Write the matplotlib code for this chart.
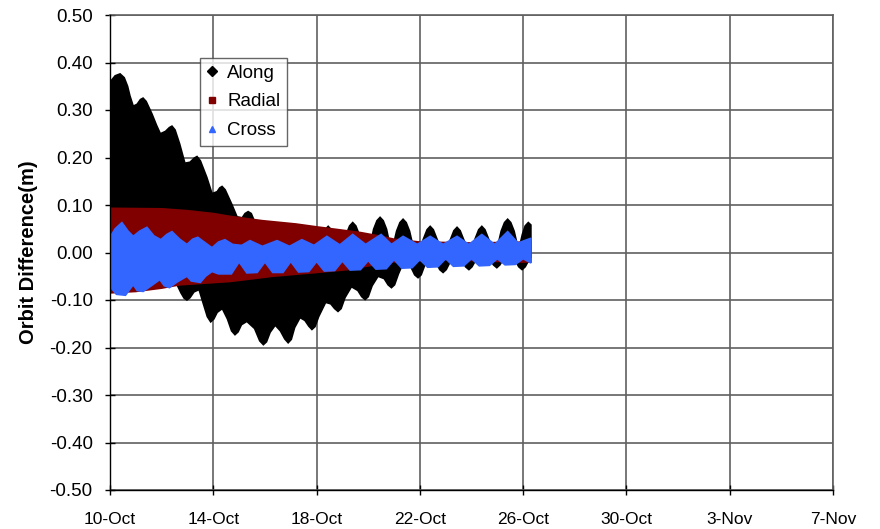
import numpy as np
import matplotlib
matplotlib.use("Agg")
from matplotlib import pyplot as plt
from matplotlib.lines import Line2D

plt.rcParams['font.family'] = ['Liberation Sans', 'DejaVu Sans']

tick_days = [0, 4, 8, 12, 16, 20, 24, 28]
tick_labels = ['10-Oct', '14-Oct', '18-Oct', '22-Oct', '26-Oct', '30-Oct', '3-Nov', '7-Nov']
y_ticks = [-0.5, -0.4, -0.3, -0.2, -0.1, 0.0, 0.1, 0.2, 0.3, 0.4, 0.5]

# Along (upper envelope)
along_top_d = [0.0, 0.05, 0.2, 0.39, 0.55, 0.68, 0.77, 0.9, 1.05, 1.18, 1.28, 1.4, 1.63, 1.8, 1.95,
               2.15, 2.3, 2.4, 2.52, 2.7, 2.9, 3.1, 3.27, 3.37, 3.5, 3.75, 3.95, 4.15, 4.25, 4.34,
               4.46, 4.72, 4.92, 5.12, 5.23, 5.35, 5.47, 5.6, 5.8, 6.4, 6.9, 7.4, 7.9,
               8.05, 8.2, 8.33, 8.45, 8.57, 8.7, 8.85,
               9.0, 9.15, 9.28, 9.4, 9.52, 9.65, 9.8,
               10.06, 10.21, 10.34, 10.46, 10.58, 10.71, 10.86,
               10.95, 11.1, 11.23, 11.35, 11.47, 11.6, 11.75,
               12.0, 12.15, 12.28, 12.4, 12.52, 12.65, 12.8,
               13.04, 13.19, 13.32, 13.44, 13.56, 13.69, 13.84,
               14.0, 14.15, 14.28, 14.4, 14.52, 14.65, 14.8,
               15.0, 15.15, 15.28, 15.4, 15.52, 15.65, 15.8,
               15.85, 15.97, 16.08, 16.2, 16.3]
along_top_v = [0.350, 0.362, 0.372, 0.376, 0.368, 0.350, 0.330, 0.308, 0.312, 0.322, 0.325, 0.318, 0.291, 0.268, 0.250,
               0.255, 0.263, 0.266, 0.258, 0.228, 0.188, 0.190, 0.199, 0.202, 0.193, 0.158, 0.124, 0.128, 0.136, 0.139,
               0.132, 0.101, 0.075, 0.073, 0.082, 0.086, 0.082, 0.065, 0.040, 0.050, 0.020, 0.048, 0.020,
               0.010, 0.030, 0.048, 0.055, 0.048, 0.030, 0.010,
               0.010, 0.038, 0.056, 0.063, 0.056, 0.038, 0.010,
               0.010, 0.049, 0.067, 0.074, 0.067, 0.049, 0.010,
               0.010, 0.045, 0.063, 0.070, 0.063, 0.045, 0.010,
               0.010, 0.030, 0.048, 0.055, 0.048, 0.030, 0.010,
               0.010, 0.028, 0.046, 0.053, 0.046, 0.028, 0.010,
               0.010, 0.030, 0.048, 0.055, 0.048, 0.030, 0.010,
               0.010, 0.045, 0.063, 0.070, 0.063, 0.045, 0.010,
               0.010, 0.038, 0.056, 0.063, 0.058]
# Along (lower envelope)
along_bot_d = [0.0, 0.5, 1.0, 1.5, 2.0, 2.4,
               2.6, 2.75, 2.87, 2.98, 3.1, 3.25, 3.45,
               3.6, 3.77, 3.9, 4.02, 4.15, 4.35,
               4.55, 4.71, 4.84, 4.96, 5.09, 5.3,
               5.6, 5.8, 5.94, 6.06, 6.2, 6.4,
               6.6, 6.77, 6.9, 7.02, 7.15, 7.36,
               7.55, 7.7, 7.82, 7.94, 8.08, 8.35,
               8.55, 8.7, 8.83, 8.95, 9.1, 9.35,
               9.6, 9.75, 9.88, 10.0, 10.15, 10.38,
               10.62, 10.77, 10.9, 11.02, 11.17, 11.45,
               11.65, 11.8, 11.93, 12.05, 12.2, 12.45,
               12.62, 12.77, 12.9, 13.02, 13.17, 13.45,
               13.62, 13.77, 13.9, 14.02, 14.17, 14.5,
               14.7, 14.85, 14.98, 15.1, 15.25, 15.5,
               15.68, 15.83, 15.96, 16.08, 16.23, 16.3]
along_bot_v = [0.0, -0.05, -0.07, -0.05, -0.07, -0.06,
               -0.068, -0.085, -0.096, -0.100, -0.095, -0.083, -0.078,
               -0.105, -0.135, -0.146, -0.140, -0.126, -0.118,
               -0.140, -0.165, -0.173, -0.167, -0.152, -0.145,
               -0.160, -0.186, -0.194, -0.188, -0.168, -0.153,
               -0.165, -0.182, -0.190, -0.183, -0.158, -0.137,
               -0.143, -0.155, -0.162, -0.156, -0.135, -0.105,
               -0.108, -0.118, -0.124, -0.118, -0.095, -0.072,
               -0.080, -0.093, -0.099, -0.093, -0.070, -0.050,
               -0.055, -0.068, -0.074, -0.068, -0.045, -0.010,
               -0.030, -0.047, -0.053, -0.047, -0.025, -0.010,
               -0.020, -0.036, -0.042, -0.036, -0.020, -0.010,
               -0.015, -0.030, -0.036, -0.030, -0.015, -0.010,
               -0.012, -0.026, -0.032, -0.026, -0.012, -0.010,
               -0.015, -0.030, -0.036, -0.030, -0.015, -0.010]

# Radial
radial_top_d = [0.0, 2.0, 3.0, 4.0, 4.65, 5.9, 7.2, 8.0, 9.0, 9.7, 10.5, 11.0, 12.0, 14.0, 16.3]
radial_top_v = [0.093, 0.092, 0.088, 0.082, 0.076, 0.067, 0.060, 0.054, 0.047, 0.042, 0.034, 0.028, 0.022, 0.020, 0.022]
radial_bot_d = [0.0, 1.0, 2.0, 2.7, 4.65, 6.3, 8.0, 9.2, 9.8, 10.9, 12.9, 15.8, 16.3]
radial_bot_v = [-0.085, -0.082, -0.075, -0.068, -0.061, -0.050, -0.042, -0.036, -0.030, -0.020, -0.015, -0.020, -0.020]

# Cross
cross_top_d = [0.0, 0.2, 0.46, 0.7, 0.9, 1.15, 1.43, 1.7, 1.97, 2.2, 2.4, 2.7, 2.98, 3.2, 3.4, 3.7, 3.95,
               4.2, 4.45, 4.75, 5.1, 5.42, 5.9, 6.47, 6.95, 7.43, 7.9, 8.4, 8.9, 9.4, 9.9, 10.5, 10.9,
               11.35, 11.9, 12.4, 12.9, 13.44, 13.9, 14.4, 14.9, 15.4, 15.8, 16.3]
cross_top_v = [0.032, 0.05, 0.063, 0.045, 0.034, 0.045, 0.053, 0.035, 0.027, 0.038, 0.044, 0.028, 0.017, 0.028, 0.032, 0.02, 0.010,
               0.022, 0.027, 0.017, 0.015, 0.025, 0.013, 0.025, 0.013, 0.027, 0.015, 0.034, 0.016, 0.038, 0.017, 0.038, 0.017,
               0.034, 0.017, 0.034, 0.017, 0.034, 0.017, 0.038, 0.017, 0.044, 0.02, 0.03]
cross_bot_d = [0.0, 0.25, 0.6, 0.8, 0.9, 1.05, 1.28, 1.6, 1.93, 2.1, 2.3, 2.6, 2.98, 3.15, 3.5, 3.7, 3.95,
               4.2, 4.7, 5.0, 5.3, 5.7, 6.0, 6.3, 6.7, 7.0, 7.3, 7.7, 8.0, 8.3, 8.7, 9.0, 9.3, 9.7, 10.0,
               10.3, 10.7, 11.0, 11.3, 11.7, 12.0, 12.3, 12.7, 13.0, 13.3, 13.7, 14.0, 14.3, 14.7, 15.0,
               15.3, 15.7, 16.0, 16.3]
cross_bot_v = [-0.072, -0.088, -0.090, -0.075, -0.068, -0.080, -0.082, -0.070, -0.057, -0.070, -0.074, -0.062, -0.050, -0.060, -0.063, -0.050, -0.040,
               -0.045, -0.045, -0.020, -0.043, -0.042, -0.020, -0.042, -0.042, -0.019, -0.041, -0.040, -0.019, -0.039, -0.038, -0.018, -0.037, -0.036, -0.017,
               -0.035, -0.034, -0.015, -0.033, -0.032, -0.015, -0.031, -0.030, -0.013, -0.029, -0.028, -0.013, -0.028, -0.027, -0.013,
               -0.026, -0.025, -0.013, -0.022]

series = [
    ('Along', '#000000', 'D', along_top_d, along_top_v, along_bot_d, along_bot_v),
    ('Radial', '#800000', 's', radial_top_d, radial_top_v, radial_bot_d, radial_bot_v),
    ('Cross', '#3366FF', '^', cross_top_d, cross_top_v, cross_bot_d, cross_bot_v),
]

fig = plt.figure(figsize=(8.8, 5.29), dpi=100)
ax = fig.add_axes([110 / 880, 1 - 490 / 529, 723 / 880, 475 / 529])

handles = []
for name, col, mk, td, tv, bd, bv in series:
    xs = np.concatenate([td, bd[::-1]])
    ys = np.concatenate([tv, bv[::-1]])
    ax.fill(xs, ys, facecolor=col, edgecolor=col, linewidth=1.2, zorder=3)
    handles.append(Line2D([], [], linestyle='none', marker=mk, color=col, markersize=5, label=name))

ax.set_xlim(0, 28)
ax.set_ylim(-0.5, 0.5)
ax.set_xticks(tick_days)
ax.set_xticklabels(tick_labels)
ax.set_yticks(y_ticks)
ax.set_yticklabels(['%.2f' % v for v in y_ticks])
ax.tick_params(direction='inout', length=7, width=1, colors='black')
ax.tick_params(axis='x', labelsize=12.5, pad=12)
ax.tick_params(axis='y', labelsize=13.5, pad=9)
ax.grid(True, color='#606060', linewidth=1.2, zorder=1)
ax.set_axisbelow(True)
for side in ['top', 'right']:
    ax.spines[side].set_color('#606060')
    ax.spines[side].set_linewidth(1.2)
for side in ['left', 'bottom']:
    ax.spines[side].set_color('black')
    ax.spines[side].set_linewidth(1.0)
    ax.spines[side].set_zorder(5)

ax.set_ylabel('Orbit Difference(m)', fontsize=14.5, fontweight='bold', labelpad=8)

leg = ax.legend(handles=handles, loc='upper left', bbox_to_anchor=(90 / 723, 1 - 43 / 475),
                borderaxespad=0, frameon=True, fancybox=False, fontsize=13.5,
                handlelength=0.6, handletextpad=0.5, labelspacing=0.62, borderpad=0.35)
leg.get_frame().set_edgecolor('#404040')
leg.get_frame().set_linewidth(1.0)
leg.set_zorder(10)

plt.savefig('out.png', dpi=100)
